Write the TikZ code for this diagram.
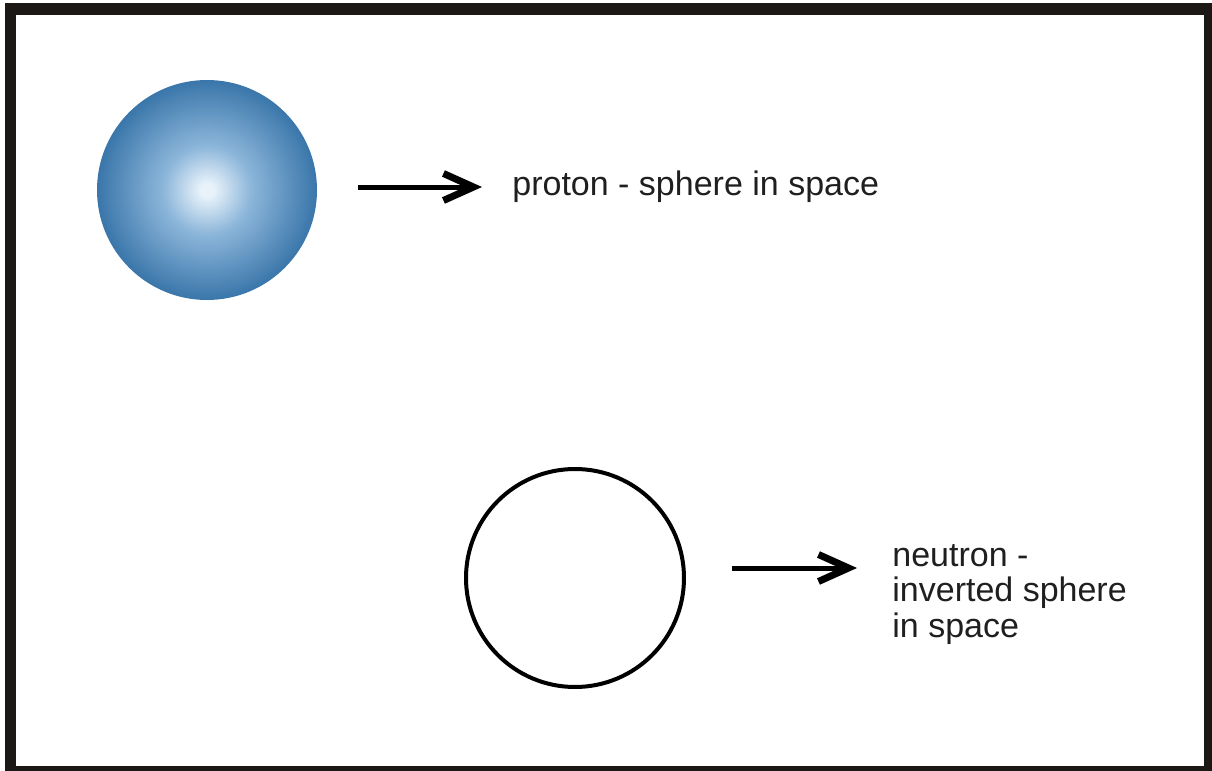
\documentclass[tikz,border=0pt]{standalone}
\usepackage{fontspec}
\setmainfont{Liberation Sans}
\usetikzlibrary{arrows.meta}
\definecolor{frame}{RGB}{28,24,22}
\definecolor{sphhi}{RGB}{232,242,250}
\definecolor{sphmid}{RGB}{140,182,218}
\definecolor{sphout}{RGB}{58,118,170}
\pgfdeclareradialshading{sphere}{\pgfpoint{0bp}{0bp}}{color(0bp)=(sphhi); color(1.5bp)=(sphhi); color(10bp)=(sphmid); color(25bp)=(sphout); color(50bp)=(sphout)}
\begin{document}
\begin{tikzpicture}[x=0.5pt,y=-0.5pt,
	lbl/.style={font=\fontsize{17}{17.75}\selectfont, text=black!88, inner sep=0pt},
	arr/.style={line width=2.5pt, -{Straight Barb[length=15pt,width=13.5pt,line width=3.5pt]}}]
	\useasboundingbox (0,0) rectangle (1212,771);
	\draw[line width=5.75pt, color=frame] (10.5,9) rectangle (1209.5,771.5);
	\node[circle, minimum size=110pt, inner sep=0pt, shading=sphere] (proton) at (207,190) {};
	\node[circle, draw, line width=2pt, minimum size=109pt, inner sep=0pt] (neutron) at (575,578) {};
	\node[lbl, anchor=base west] (protonlbl) at (512,195) {proton - sphere in space};
	\node[lbl, anchor=base west, align=left] (neutronlbl) at (892,637) {neutron -\\inverted sphere\\in space};
	\draw[arr, shorten <=20.5pt, shorten >=15pt] ([yshift=1.5pt]proton.east) -- ([yshift=1.5pt]proton.east -| protonlbl.west);
	\draw[arr, shorten <=23pt, shorten >=17.5pt] ([yshift=5pt]neutron.east) -- ([yshift=5pt]neutron.east -| neutronlbl.west);
\end{tikzpicture}
\end{document}
